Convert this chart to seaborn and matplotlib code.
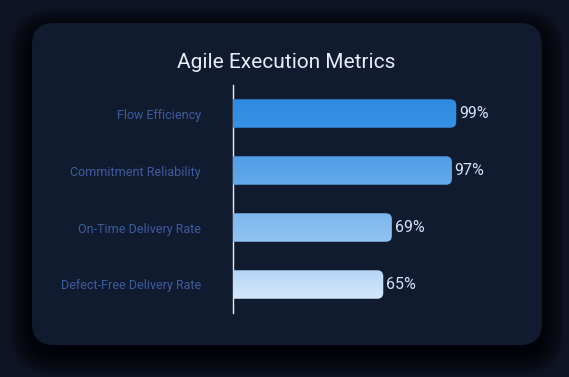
import matplotlib
matplotlib.use("Agg")
import matplotlib.pyplot as plt
import seaborn as sns
import numpy as np
import pandas as pd
from matplotlib.patches import FancyBboxPatch
from matplotlib.colors import to_rgb

categories = ["Flow Efficiency", "Commitment Reliability", "On-Time Delivery Rate", "Defect-Free Delivery Rate"]
values = [99, 97, 69, 65]
value_labels = ["99%", "97%", "69%", "65%"]
title = "Agile Execution Metrics"
top_colors = ["#2f89df", "#509de7", "#7cb7ee", "#b4d5f6"]
bottom_colors = ["#3791e4", "#63aaea", "#93c4f2", "#d5e8fb"]

sns.set_theme(style="white")
plt.rcParams["font.family"] = ["Roboto", "DejaVu Sans"]

W, H = 569, 377
fig = plt.figure(figsize=(W / 100, H / 100), dpi=100)
fig.patch.set_facecolor("#0e1423")

# shadow + card
cx0, cy0, cx1, cy1 = 32, 23, 542, 345
for i in range(14, 0, -1):
    g = i * 1.6
    sh = FancyBboxPatch(((cx0 - g) / W, 1 - (cy1 + 8 + g) / H), (cx1 - cx0 + 2 * g) / W, (cy1 - cy0 + 2 * g) / H,
                        boxstyle=f"round,pad=0,rounding_size={(22 + g) / W}",
                        mutation_aspect=W / H, transform=fig.transFigure,
                        facecolor="#000000", edgecolor="none", alpha=0.07, zorder=0)
    fig.patches.append(sh)
card = FancyBboxPatch((cx0 / W, 1 - cy1 / H), (cx1 - cx0) / W, (cy1 - cy0) / H,
                      boxstyle=f"round,pad=0,rounding_size={22 / W}",
                      mutation_aspect=W / H, transform=fig.transFigure,
                      facecolor="#111b30", edgecolor="none", zorder=1)
fig.patches.append(card)

ax = fig.add_axes([233 / W, 1 - 313 / H, (520 - 233) / W, (313 - 85) / H])
ax.set_facecolor("none")
ax.set_zorder(2)

df = pd.DataFrame({"metric": categories, "value": values})
sns.barplot(data=df, x="value", y="metric", orient="h", ax=ax, width=0.5, color="#3791e4")

xmin, xmax = -5, 128.7
ax.set_xlim(xmin, xmax)
ax.set_ylim(3.5, -0.5)

px_per_x = (520 - 233) / (xmax - xmin)
px_per_y = (313 - 85) / 4.0
r_px = 6
rx = r_px / px_per_x
aspect = (r_px / px_per_y) / rx

for i, p in enumerate(ax.patches):
    x0, y0 = p.get_x(), p.get_y()
    w, h = p.get_width(), p.get_height()
    p.set_alpha(0)
    left = xmin - 5
    rp = FancyBboxPatch((left, y0), x0 + w - left, h,
                        boxstyle=f"round,pad=0,rounding_size={rx}",
                        mutation_aspect=aspect, facecolor="none", edgecolor="none")
    ax.add_patch(rp)
    c1 = np.array(to_rgb(top_colors[i]))
    c2 = np.array(to_rgb(bottom_colors[i]))
    t = np.linspace(0, 1, 64)[:, None]
    grad = (c1[None, :] * (1 - t) + c2[None, :] * t)[:, None, :]
    im = ax.imshow(grad, extent=[left, x0 + w, y0 + h, y0], aspect="auto", zorder=3, interpolation="bilinear")
    im.set_clip_path(rp)

ax.set_xlim(xmin, xmax)
ax.set_ylim(3.5, -0.5)

ax.bar_label(ax.containers[0], labels=value_labels, padding=2, color="#cfe2f7", fontsize=11.5)

ax.set_xlabel("")
ax.set_ylabel("")
ax.set_xticks([])
for s in ["top", "right", "bottom"]:
    ax.spines[s].set_visible(False)
ax.spines["left"].set_color("#e8edf4")
ax.spines["left"].set_linewidth(1.0)
ax.tick_params(axis="y", length=0, pad=23, labelsize=9, labelcolor="#3d5c9e")

fig.text(286 / W, 1 - 63 / H, title, ha="center", va="center", color="#e6edf7", fontsize=15)

fig.savefig("out.png", dpi=100, facecolor=fig.get_facecolor())
